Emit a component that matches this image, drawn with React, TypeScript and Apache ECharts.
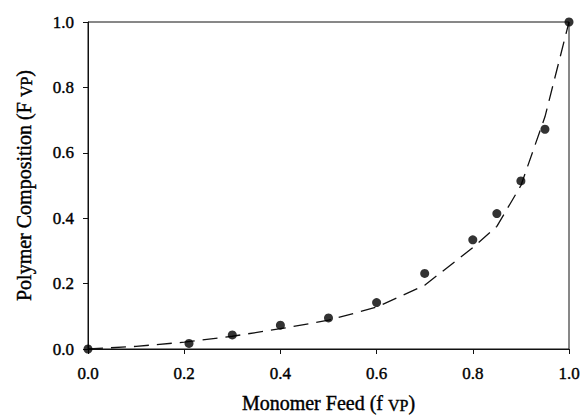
import React, { useEffect, useRef } from "react";
import * as echarts from "echarts";

const feedData = [0, 0.21, 0.3, 0.4, 0.5, 0.6, 0.7, 0.8, 0.85, 0.9, 0.95, 1.0];
const compData = [0, 0.017, 0.043, 0.073, 0.095, 0.142, 0.231, 0.334, 0.414, 0.514, 0.672, 1.0];

const fitFeed = [0, 0.1, 0.2, 0.3, 0.4, 0.5, 0.6, 0.7, 0.8, 0.85, 0.9, 0.95, 1.0];
const fitComp = [0, 0.008, 0.021, 0.039, 0.062, 0.088, 0.128, 0.195, 0.31, 0.375, 0.5, 0.71, 1.0];

const xTicks = [0, 0.2, 0.4, 0.6, 0.8, 1.0];
const yTicks = [0, 0.2, 0.4, 0.6, 0.8, 1.0];

const FONT = "Liberation Serif";

export default function App() {
  const ref = useRef<HTMLDivElement>(null);
  useEffect(() => {
    if (!ref.current) return;
    const chart = echarts.init(ref.current, null, { renderer: "svg" });
    const heavy = { textBorderColor: "#000", textBorderWidth: 0.4 };
    const nameRich = {
      m: { fontFamily: FONT, fontSize: 20, color: "#000", lineHeight: 20, verticalAlign: "top", ...heavy },
      s: { fontFamily: FONT, fontSize: 16, color: "#000", lineHeight: 16, padding: [10, 0, 0, 0], verticalAlign: "bottom", ...heavy },
    };
    const labelStyle = (margin: number) => ({
      margin,
      fontFamily: FONT,
      fontSize: 17,
      color: "#000",
      ...heavy,
      formatter: (v: number) => v.toFixed(1),
    });
    chart.setOption({
      animation: false,
      backgroundColor: "#fff",
      grid: {
        left: 88,
        right: 15,
        top: 22,
        bottom: 71,
        show: true,
        borderColor: "#111",
        borderWidth: 1,
        backgroundColor: "transparent",
      },
      xAxis: {
        type: "value",
        min: xTicks[0],
        max: xTicks[xTicks.length - 1],
        interval: 0.2,
        name: "{m|Monomer Feed (f }{s|VP}{m|)}",
        nameLocation: "middle",
        nameGap: 42,
        nameTextStyle: { rich: nameRich },
        axisLine: { show: true, lineStyle: { color: "#111", width: 1 } },
        axisTick: { show: true, inside: false, length: 5, lineStyle: { color: "#111" } },
        axisLabel: labelStyle(16),
        splitLine: { show: false },
      },
      yAxis: {
        type: "value",
        min: yTicks[0],
        max: yTicks[yTicks.length - 1],
        interval: 0.2,
        name: "{m|Polymer Composition (F }{s|VP}{m|)}",
        nameLocation: "middle",
        nameGap: 54,
        nameTextStyle: { rich: nameRich },
        axisLine: { show: true, lineStyle: { color: "#111", width: 1 } },
        axisTick: { show: true, inside: false, length: 5, lineStyle: { color: "#111" } },
        axisLabel: labelStyle(14),
        splitLine: { show: false },
      },
      series: [
        {
          type: "line",
          data: fitFeed.map((x, i) => [x, fitComp[i]]),
          showSymbol: false,
          symbol: "none",
          lineStyle: { color: "#111", width: 1.3, type: [15, 8] },
          z: 2,
        },
        {
          type: "scatter",
          data: feedData.map((x, i) => [x, compData[i]]),
          symbol: "circle",
          symbolSize: 9,
          itemStyle: { color: "#000" },
          clip: false,
          z: 3,
        },
      ],
    });
    return () => chart.dispose();
  }, []);
  return <div ref={ref} style={{ width: 584, height: 420, position: "absolute", left: 0, top: 0 }} />;
}
